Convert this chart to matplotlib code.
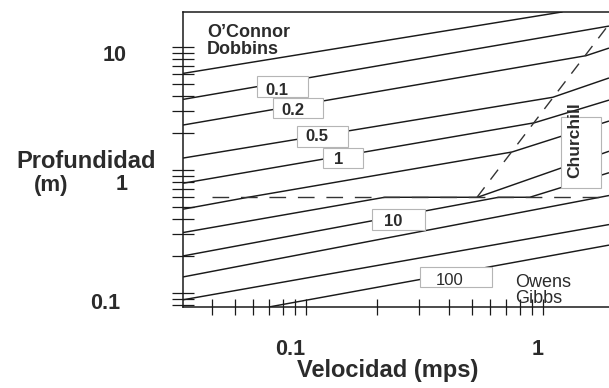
import matplotlib
matplotlib.use('Agg')
import matplotlib.pyplot as plt
from matplotlib.patches import Rectangle
from matplotlib.ticker import NullFormatter

# ---------------- data ----------------
# contour lines of the reaeration coefficient K2 (1/day): velocity (m/s) vs depth (m)
k005_u = [0.0303, 1.21];              k005_h = [6.1, 19.3]
k01_u = [0.0303, 1.9];                k01_h = [3.75, 14.8]
k02_u = [0.0303, 1.52, 1.9];          k02_h = [2.32, 8.5, 9.8]
k05_u = [0.0303, 1.1, 1.9];           k05_h = [1.25, 3.9, 5.6]
k1_u = [0.0303, 0.92, 1.9];           k1_h = [0.78, 2.42, 3.7]
k2_u = [0.0303, 0.057, 0.74, 1.9];    k2_h = [0.48, 0.6, 1.4, 2.5]
k5_u = [0.0303, 0.215, 0.53, 1.9];    k5_h = [0.31, 0.6, 0.6, 1.42]
k10_u = [0.0303, 0.65, 0.88, 1.9];    k10_h = [0.2, 0.6, 0.6, 0.95]
k20_u = [0.0303, 1.9];                k20_h = [0.135, 0.62]
k50_u = [0.0303, 1.9];                k50_h = [0.088, 0.36]
k100_u = [0.07, 1.9];                 k100_h = [0.077, 0.245]

# region boundaries (dashed)
owens_u = [0.04, 1.9];                owens_h = [0.6, 0.6]
churchill_u = [0.527, 1.9];           churchill_h = [0.6, 15.3]

# boxed K2 labels (text centre in data units)
box_labels = ['0.1', '0.2', '0.5', '1', '10', '100']
box_u = [0.0754, 0.0881, 0.1113, 0.1378, 0.2328, 0.405]
box_h = [4.47, 3.02, 1.855, 1.206, 0.378, 0.1252]

# axis ticks
x_major = [0.1, 1]
x_minor = [0.04, 0.05, 0.06, 0.07, 0.08, 0.09, 0.2, 0.3, 0.4, 0.5, 0.6, 0.7, 0.8, 0.9]
y_major = [0.1, 1, 10]
y_minor = [0.08, 0.09, 0.2, 0.3, 0.4, 0.5, 0.6, 0.7, 0.8, 0.9, 2, 3, 4, 5, 6, 7, 8, 9]
x_tick_labels = ['0.1', '1']
y_tick_labels = ['0.1', '1', '10']

# ---------------- figure ----------------
W, H = 609, 388
FONT = 'Liberation Sans'
TXT = '#2b2b2b'
LINE = '#1a1a1a'

fig = plt.figure(figsize=(W / 100, H / 100), dpi=100)
fig.patch.set_facecolor('white')


def fx(px):
    return px / W


def fy(py):
    return 1 - py / H


ax = fig.add_axes([fx(183), fy(307), (609 - 183) / W, (307 - 12) / H])
ax.set_xscale('log')
ax.set_yscale('log')
ax.set_xlim(0.0303, 1.90)
ax.set_ylim(0.0769, 19.26)

for s in ['left', 'bottom', 'top']:
    ax.spines[s].set_linewidth(1.1)
    ax.spines[s].set_color(LINE)
ax.spines['right'].set_visible(False)

ax.set_xticks(x_major)
ax.set_xticks(x_minor, minor=True)
ax.set_yticks(y_major)
ax.set_yticks(y_minor, minor=True)
for axis in (ax.xaxis, ax.yaxis):
    axis.set_major_formatter(NullFormatter())
    axis.set_minor_formatter(NullFormatter())
ax.tick_params(axis='x', which='both', direction='inout', length=11, width=0.9,
               color=LINE, top=False)
ax.tick_params(axis='y', which='both', direction='inout', length=16, width=0.9,
               color=LINE, right=False)

# contour lines
all_lines = [(k005_u, k005_h), (k01_u, k01_h), (k02_u, k02_h), (k05_u, k05_h),
             (k1_u, k1_h), (k2_u, k2_h), (k5_u, k5_h), (k10_u, k10_h),
             (k20_u, k20_h), (k50_u, k50_h), (k100_u, k100_h)]
for u, h in all_lines:
    ax.plot(u, h, color=LINE, lw=1.05, solid_capstyle='butt', zorder=2)

# dashed boundaries
ax.plot(owens_u, owens_h, color='#333333', lw=1.0, dashes=(12, 8.5), zorder=2)
ax.plot(churchill_u, churchill_h, color='#333333', lw=1.0, dashes=(9, 7), zorder=2)

inv = ax.transData.inverted()


def boxed(text, u, h, left, right, top, bottom, rotation=0, size=12, weight='bold'):
    cx, cy = ax.transData.transform((u, h))
    (u0, h0) = inv.transform((cx + left, cy - bottom))
    (u1, h1) = inv.transform((cx + right, cy - top))
    ax.add_patch(Rectangle((u0, h0), u1 - u0, h1 - h0, facecolor='white',
                           edgecolor='#b5b5b5', lw=0.8, zorder=3))
    ax.text(u, h, text, ha='center', va='center', fontsize=size, family=FONT,
            weight=weight, color=TXT, rotation=rotation, zorder=4)


# box extents in pixels relative to text centre: left, right, top, bottom (image y down)
box_ext = [(-20, 31, -14, 7), (-20, 30, -13, 7), (-20, 31, -11, 10),
           (-16, 24, -12, 8), (-21, 32, -13, 8), (-30, 42, -14, 6)]
for lab, u, h, ext in zip(box_labels, box_u, box_h, box_ext):
    boxed(lab, u, h, *ext, weight='normal' if lab == '100' else 'bold')

# Churchill box
cx, cy = ax.transData.transform((1.365, 1.754))
(u0, h0) = inv.transform((cx - 14, cy - 48))
(u1, h1) = inv.transform((cx + 26, cy + 23))
ax.add_patch(Rectangle((u0, h0), u1 - u0, h1 - h0, facecolor='white',
                       edgecolor='#b5b5b5', lw=0.8, zorder=3))
ax.text(1.365, 1.754, 'Churchill', ha='center', va='center', rotation=90,
        fontsize=12.5, family=FONT, weight='bold', color=TXT, zorder=4)

# region names
ax.text(0.0382, 13.24, 'O\u2019Connor', ha='left', va='center', fontsize=13,
        family=FONT, weight='bold', color=TXT, zorder=4)
ax.text(0.0382, 9.63, 'Dobbins', ha='left', va='center', fontsize=13,
        family=FONT, weight='bold', color=TXT, zorder=4)
ax.text(0.762, 0.1206, 'Owens', ha='left', va='center', fontsize=13,
        family=FONT, color=TXT, zorder=4)
ax.text(0.762, 0.0894, 'Gibbs', ha='left', va='center', fontsize=13,
        family=FONT, color=TXT, zorder=4)

# tick labels (placed as in the reference)
for lab, px in zip(x_tick_labels, [290, 538]):
    fig.text(fx(px), fy(355), lab, ha='center', va='baseline', fontsize=15.5,
             family=FONT, weight='bold', color=TXT)
for lab, px, py in zip(y_tick_labels, [120, 128, 127], [309, 190, 61]):
    fig.text(fx(px), fy(py), lab, ha='right', va='baseline', fontsize=15.5,
             family=FONT, weight='bold', color=TXT)

# axis titles
fig.text(fx(86), fy(168), 'Profundidad', ha='center', va='baseline', fontsize=17,
         family=FONT, weight='bold', color=TXT)
fig.text(fx(51), fy(191), '(m)', ha='center', va='baseline', fontsize=16,
         family=FONT, weight='bold', color=TXT)
fig.text(fx(388), fy(377), 'Velocidad (mps)', ha='center', va='baseline', fontsize=17,
         family=FONT, weight='bold', color=TXT)

fig.savefig('out.png', dpi=100, facecolor='white')
